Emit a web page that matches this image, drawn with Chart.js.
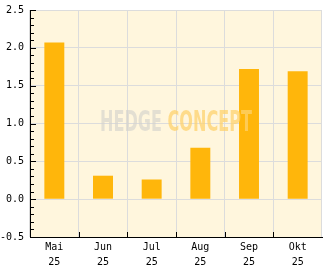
<!DOCTYPE html>
<html>
<head>
<meta charset="utf-8">
<script src="https://cdn.jsdelivr.net/npm/chart.js@4"></script>
<style>
  html, body { margin: 0; padding: 0; background: #fff; }
  #wrap { position: relative; width: 332px; height: 269px; }
  #mark {
    position: absolute; left: 100px; top: 108px;
    font: bold 28px "DejaVu Sans Condensed", "DejaVu Sans", sans-serif;
    line-height: 28px; white-space: nowrap; transform-origin: 0 0;
    pointer-events: none;
  }
  #mark .a { color: rgba(212, 210, 204, 0.65); }
  #mark .b { color: rgba(254, 210, 110, 0.75); }
</style>
</head>
<body>
<div id="wrap">
  <canvas id="c" width="332" height="269"></canvas>
  <div id="mark"><span class="a">HEDGE</span> <span class="b">CONCEPT</span></div>
</div>
<script>
// months shown on the x axis (month, year)
const months = [['Mai', '25'], ['Jun', '25'], ['Jul', '25'], ['Aug', '25'], ['Sep', '25'], ['Okt', '25']];
// bar heights
const values = [2.07, 0.31, 0.26, 0.68, 1.72, 1.69];
const yMin = -0.5;
const yMax = 2.5;

const AXIS_FONT = { family: '"DejaVu Sans Mono", monospace', size: 10, lineHeight: '15px' };

// cream plot background
const plotBg = {
  id: 'plotBg',
  beforeDraw(chart) {
    const { ctx, chartArea: a } = chart;
    ctx.save();
    ctx.fillStyle = '#fff6dd';
    ctx.fillRect(a.left, a.top, a.right - a.left, a.bottom - a.top);
    ctx.restore();
  }
};

// small tick marks drawn inside the plot, every 0.1 on y and at category edges on x
const innerTicks = {
  id: 'innerTicks',
  afterDraw(chart) {
    const { ctx, chartArea: a, scales } = chart;
    ctx.save();
    ctx.strokeStyle = '#000';
    ctx.lineWidth = 1;
    ctx.beginPath();
    for (let i = 0; i <= Math.round((yMax - yMin) * 10); i++) {
      const v = yMin + i / 10;
      const y = Math.round(scales.y.getPixelForValue(v)) + 0.5;
      const len = i % 5 === 0 ? 6 : 4;
      ctx.moveTo(a.left, y);
      ctx.lineTo(a.left + len, y);
    }
    const step = scales.x.getPixelForValue(1) - scales.x.getPixelForValue(0);
    for (let i = 1; i < months.length; i++) {
      const x = Math.round(scales.x.getPixelForValue(i) - step / 2) + 0.5;
      ctx.moveTo(x, a.bottom);
      ctx.lineTo(x, a.bottom - 5);
    }
    ctx.stroke();
    ctx.restore();
  }
};

new Chart(document.getElementById('c'), {
  type: 'bar',
  data: {
    labels: months,
    datasets: [{
      data: values,
      backgroundColor: '#ffb60b',
      borderWidth: 0,
      barPercentage: 0.41,
      categoryPercentage: 1
    }]
  },
  options: {
    responsive: false,
    animation: false,
    devicePixelRatio: 1,
    layout: { padding: { top: 10, right: 10, left: 0, bottom: 0 } },
    plugins: { legend: { display: false }, tooltip: { enabled: false } },
    scales: {
      x: {
        grid: { color: '#dcdcdc', offset: true, drawTicks: false },
        border: { color: '#000', width: 1 },
        ticks: { color: '#000', font: AXIS_FONT, padding: 3, maxRotation: 0 },
        afterFit(s) { s.height = 32; s.paddingLeft = 0; s.paddingRight = 0; }
      },
      y: {
        min: yMin,
        max: yMax,
        grid: { color: '#dcdcdc', drawTicks: false },
        border: { color: '#000', width: 1 },
        ticks: {
          stepSize: 0.5,
          color: '#000',
          font: AXIS_FONT,
          padding: 6,
          callback: v => v.toFixed(1)
        },
        afterFit(s) { s.width = 30; s.paddingTop = 0; s.paddingBottom = 0; }
      }
    }
  },
  plugins: [plotBg, innerTicks]
});

// squeeze the watermark to the width seen in the picture
const mark = document.getElementById('mark');
const w = mark.getBoundingClientRect().width;
mark.style.transform = 'scaleX(' + (152 / w) + ')';
</script>
</body>
</html>
